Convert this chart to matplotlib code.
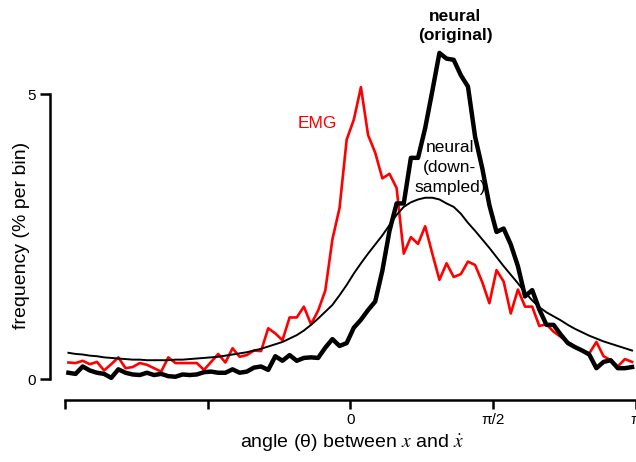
import numpy as np
import matplotlib
matplotlib.use("Agg")
import matplotlib.pyplot as plt

plt.rcParams['font.family'] = ['Liberation Sans', 'DejaVu Sans']
plt.rcParams['mathtext.fontset'] = 'stix'

n_bins = 80
bin_centers = -np.pi + (np.arange(n_bins) + 0.5) * 2 * np.pi / n_bins

emg = [0.29, 0.28, 0.32, 0.26, 0.30, 0.15, 0.26, 0.38, 0.19, 0.21,
       0.28, 0.25, 0.19, 0.13, 0.38, 0.28, 0.28, 0.28, 0.28, 0.16,
       0.30, 0.44, 0.29, 0.54, 0.39, 0.42, 0.50, 0.49, 0.89, 0.80,
       0.68, 1.08, 1.08, 1.27, 0.96, 1.20, 1.55, 2.45, 3.00, 4.20,
       4.55, 5.12, 4.28, 3.97, 3.52, 3.60, 3.35, 2.20, 2.49, 2.37,
       2.68, 2.20, 1.74, 2.03, 1.79, 1.84, 2.06, 2.00, 1.70, 1.33,
       1.91, 1.71, 1.15, 1.57, 1.27, 1.27, 0.93, 0.96, 0.83, 0.74,
       0.65, 0.57, 0.50, 0.45, 0.65, 0.40, 0.33, 0.22, 0.35, 0.30]

neural_original = [0.11, 0.09, 0.22, 0.15, 0.11, 0.09, 0.02, 0.17, 0.11, 0.08,
                   0.07, 0.11, 0.07, 0.09, 0.05, 0.04, 0.08, 0.07, 0.08, 0.12,
                   0.13, 0.11, 0.11, 0.17, 0.11, 0.13, 0.20, 0.22, 0.16, 0.40,
                   0.32, 0.42, 0.32, 0.37, 0.38, 0.37, 0.55, 0.70, 0.58, 0.63,
                   0.90, 1.04, 1.21, 1.36, 1.90, 2.60, 3.08, 3.08, 3.88, 3.88,
                   4.40, 5.05, 5.72, 5.62, 5.60, 5.33, 5.13, 4.25, 3.70, 3.05,
                   2.58, 2.64, 2.36, 1.98, 1.45, 1.56, 1.22, 0.95, 0.95, 0.78,
                   0.63, 0.56, 0.50, 0.43, 0.19, 0.30, 0.33, 0.19, 0.19, 0.21]

neural_downsampled = [0.46, 0.44, 0.43, 0.41, 0.40, 0.38, 0.37, 0.36, 0.35, 0.34,
                      0.34, 0.33, 0.33, 0.33, 0.33, 0.34, 0.34, 0.35, 0.36, 0.37,
                      0.38, 0.39, 0.41, 0.43, 0.45, 0.47, 0.50, 0.53, 0.57, 0.61,
                      0.65, 0.71, 0.77, 0.85, 0.95, 1.06, 1.18, 1.30, 1.47, 1.65,
                      1.85, 2.03, 2.20, 2.36, 2.52, 2.70, 2.88, 3.02, 3.10, 3.15,
                      3.18, 3.18, 3.15, 3.08, 3.02, 2.90, 2.74, 2.60, 2.45, 2.30,
                      2.14, 1.98, 1.83, 1.68, 1.52, 1.38, 1.26, 1.17, 1.10, 1.03,
                      0.95, 0.88, 0.82, 0.76, 0.71, 0.66, 0.62, 0.58, 0.54, 0.50]

x_ticks = [-np.pi, -np.pi / 2, 0, np.pi / 2, np.pi]
x_tick_labels = ['', '', '0', 'π/2', 'π']
y_ticks = [0, 5]
y_tick_labels = ['0', '5']

W, H = 636, 462
fig = plt.figure(figsize=(W / 100, H / 100), dpi=100)
ax = fig.add_axes([50 / W, 62 / H, 586 / W, 400 / H])

ax.plot(bin_centers, emg, color='#ff0000', lw=1.9, zorder=2)
ax.plot(bin_centers, neural_downsampled, color='black', lw=1.4, zorder=3)
ax.plot(bin_centers, neural_original, color='black', lw=3.2, zorder=4)

ax.set_xlim(-3.305, np.pi + 0.004)
ax.set_ylim(-0.368, 6.649)

for s in ['top', 'right']:
    ax.spines[s].set_visible(False)
ax.spines['left'].set_bounds(0, 5)
ax.spines['bottom'].set_bounds(-np.pi, np.pi)
ax.spines['left'].set_linewidth(1.8)
ax.spines['bottom'].set_linewidth(1.8)

ax.set_xticks(x_ticks)
ax.set_xticklabels(x_tick_labels)
ax.set_yticks(y_ticks)
ax.set_yticklabels(y_tick_labels)
ax.tick_params(axis='x', direction='out', length=6.5, width=1.8, pad=3, labelsize=11)
ax.tick_params(axis='y', direction='out', length=7, width=1.8, pad=3, labelsize=11)

def px(x, y):
    return x / W, 1 - y / H

fig.text(*px(352, 448), r'angle (θ) between $x$ and $\dot{x}$', ha='center',
         va='baseline', fontsize=14)
fig.text(*px(22, 235), 'frequency (% per bin)', ha='center', va='center',
         rotation=90, fontsize=14)

fig.text(*px(317, 128), 'EMG', color='#ff0000', ha='center', va='baseline', fontsize=12.5)
fig.text(*px(455, 20.7), 'neural', ha='center', va='baseline', fontsize=12.5, fontweight='bold')
fig.text(*px(455, 39.7), '(original)', ha='center', va='baseline', fontsize=12.5, fontweight='bold')
fig.text(*px(450, 151.7), 'neural', ha='center', va='baseline', fontsize=12.5)
fig.text(*px(450, 171.7), '(down-', ha='center', va='baseline', fontsize=12.5)
fig.text(*px(450, 191.7), 'sampled)', ha='center', va='baseline', fontsize=12.5)

fig.savefig('out.png', dpi=100)
